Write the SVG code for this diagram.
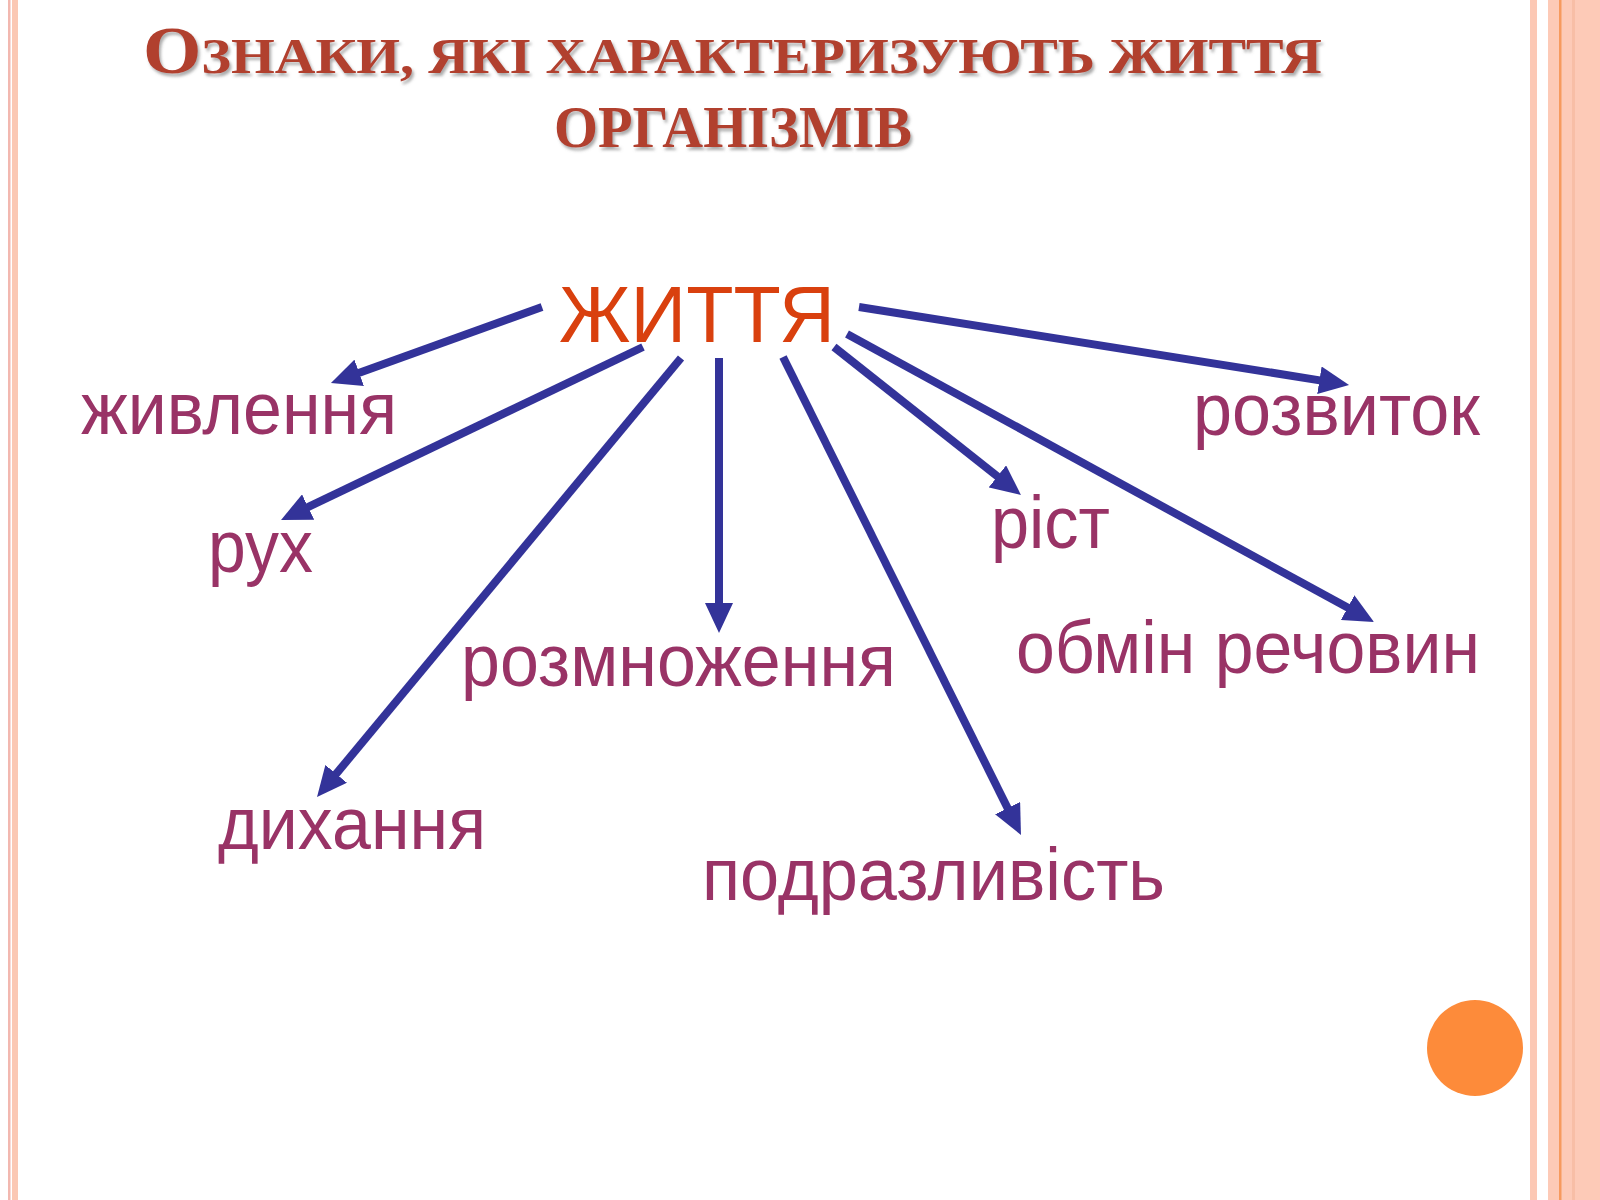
<svg xmlns="http://www.w3.org/2000/svg" width="1600" height="1200" viewBox="0 0 1600 1200">
<style>
.title{font-family:"Liberation Serif","Times New Roman",serif;font-weight:bold;fill:#b13f2e;}
.main{font-family:"Liberation Sans",Arial,sans-serif;font-size:80px;fill:#d9400e;}
.lbl{font-family:"Liberation Sans",Arial,sans-serif;font-size:74px;fill:#993366;}
.arr{stroke:#333399;stroke-width:8;fill:none;marker-end:url(#ah);}
</style>
<defs>
<marker id="ah" markerUnits="userSpaceOnUse" viewBox="0 -14 30 28" markerWidth="30" markerHeight="28" refX="2" refY="0" orient="auto">
<path d="M0,-14 L30,0 L0,14 z" fill="#333399"/>
</marker>
<filter id="sh" x="-5%" y="-20%" width="110%" height="150%">
<feDropShadow dx="2" dy="3" stdDeviation="1.5" flood-color="#666" flood-opacity="0.55"/>
</filter>
</defs>
<rect x="0" y="0" width="1600" height="1200" fill="#ffffff"/>
<g id="borders">
<rect x="8" y="0" width="2.5" height="1200" fill="#f2b8b0"/>
<rect x="12" y="0" width="6" height="1200" fill="#fbc8b4"/>
<rect x="1530" y="0" width="7" height="1200" fill="#fcc8b4"/>
<rect x="1548" y="0" width="52" height="1200" fill="#fdcab7"/>
<rect x="1559" y="0" width="2.5" height="1200" fill="#f79a5e"/>
<rect x="1572" y="0" width="3" height="1200" fill="#f8bea6"/>
</g>
<circle id="dot" cx="1475" cy="1048" r="48" fill="#fd8b3a"/>
<g id="title" filter="url(#sh)">
<text class="title" x="143" y="73" textLength="1179" lengthAdjust="spacingAndGlyphs"><tspan font-size="68">О</tspan><tspan font-size="51">ЗНАКИ, ЯКІ ХАРАКТЕРИЗУЮТЬ ЖИТТЯ</tspan></text>
<text class="title" x="554" y="147" font-size="59" textLength="358" lengthAdjust="spacingAndGlyphs">ОРГАНІЗМІВ</text>
</g>
<g id="connectors">
<line class="arr" x1="542" y1="307" x2="357.3" y2="373.5"/>
<line class="arr" x1="643" y1="347" x2="306.3" y2="507.9"/>
<line class="arr" x1="681" y1="358" x2="334.9" y2="775.4"/>
<line class="arr" x1="719" y1="358" x2="719" y2="605"/>
<line class="arr" x1="783" y1="357" x2="1008.5" y2="809.9"/>
<line class="arr" x1="834" y1="347" x2="999" y2="477.6"/>
<line class="arr" x1="847" y1="334" x2="1349.4" y2="608.6"/>
<line class="arr" x1="859" y1="307" x2="1321.4" y2="380.6"/>
</g>
<g id="node-zhyttia"><text class="main" x="559" y="342" textLength="276" lengthAdjust="spacingAndGlyphs">ЖИТТЯ</text></g>
<g id="node-zhyvlennia"><text class="lbl" x="81" y="434" textLength="316" lengthAdjust="spacingAndGlyphs">живлення</text></g>
<g id="node-rukh"><text class="lbl" x="208" y="572" textLength="105" lengthAdjust="spacingAndGlyphs">рух</text></g>
<g id="node-rozmnozhennia"><text class="lbl" x="461" y="686" textLength="435" lengthAdjust="spacingAndGlyphs">розмноження</text></g>
<g id="node-dykhannia"><text class="lbl" x="218" y="849" textLength="268" lengthAdjust="spacingAndGlyphs">дихання</text></g>
<g id="node-podrazlyvist"><text class="lbl" x="702" y="900" textLength="463" lengthAdjust="spacingAndGlyphs">подразливість</text></g>
<g id="node-rist"><text class="lbl" x="991" y="548" textLength="119" lengthAdjust="spacingAndGlyphs">ріст</text></g>
<g id="node-rozvytok"><text class="lbl" x="1193" y="435" textLength="287" lengthAdjust="spacingAndGlyphs">розвиток</text></g>
<g id="node-obmin"><text class="lbl" x="1016" y="673" textLength="464" lengthAdjust="spacingAndGlyphs">обмін речовин</text></g>
</svg>
